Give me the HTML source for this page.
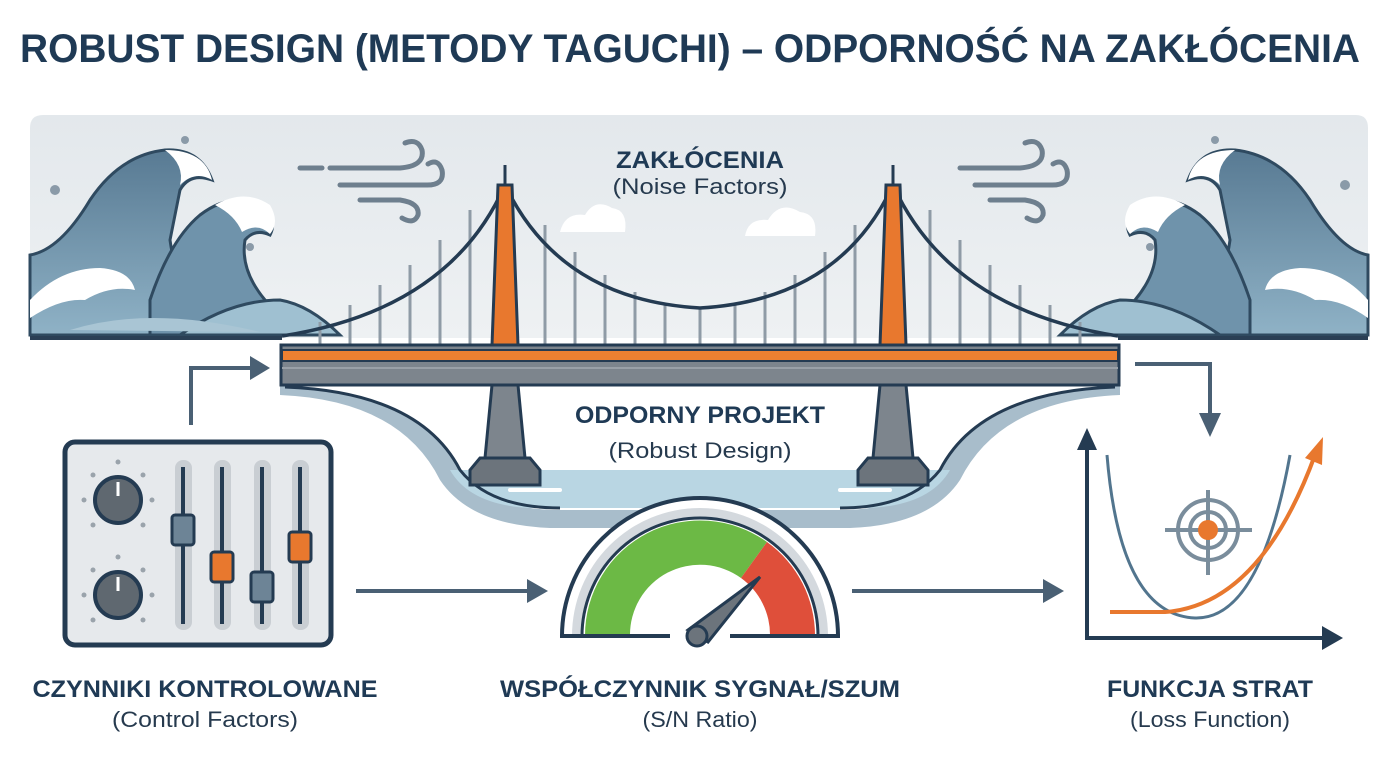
<!DOCTYPE html>
<html><head><meta charset="utf-8"><style>
html,body{margin:0;padding:0;background:#fff;}
svg{display:block;}
text{font-family:"Liberation Sans",sans-serif;}
</style></head><body>
<svg width="1400" height="764" viewBox="0 0 1400 764" xmlns="http://www.w3.org/2000/svg">
<defs>
<linearGradient id="sky" x1="0" y1="0" x2="0" y2="1"><stop offset="0" stop-color="#e3e8ec"/><stop offset="1" stop-color="#eef1f3"/></linearGradient>
<linearGradient id="wv" x1="0" y1="0" x2="0" y2="1"><stop offset="0" stop-color="#587a93"/><stop offset="1" stop-color="#8fb2c6"/></linearGradient>
</defs>
<rect width="1400" height="764" fill="#fff"/>
<text x="690" y="62" text-anchor="middle" font-size="40" font-weight="bold" fill="#1f3a55" textLength="1340" lengthAdjust="spacingAndGlyphs">ROBUST DESIGN (METODY TAGUCHI) – ODPORNOŚĆ NA ZAKŁÓCENIA</text>

<path d="M30 128 Q30 115 43 115 L1356 115 Q1368 115 1368 128 L1368 338 L30 338 Z" fill="url(#sky)"/>

<path d="M560 232 Q565 212 585 215 Q595 198 612 208 Q628 210 625 232 Z" fill="#fff"/>
<path d="M745 236 Q748 218 768 220 Q780 200 800 212 Q818 214 815 236 Z" fill="#fff"/>

<g stroke="#6e7f8e" stroke-width="5" fill="none" stroke-linecap="round">
<path d="M322 168 L300 168"/><path d="M330 168 L400 168 Q425 166 422 150 Q418 138 405 143"/>
<path d="M340 185 L425 185 Q445 186 442 170 Q438 158 428 164"/>
<path d="M360 200 L400 200 Q420 203 418 215 Q414 225 402 218"/>
<path d="M960 168 L1020 168 Q1045 166 1042 150 Q1038 138 1025 143"/>
<path d="M975 185 L1050 185 Q1070 186 1067 170 Q1063 158 1053 164"/>
<path d="M990 200 L1025 200 Q1045 203 1043 215 Q1039 225 1027 218"/>
</g>

<!-- left waves -->
<g stroke="#2f4a60" stroke-width="3">
<path d="M30 255 Q60 250 90 200 Q120 155 165 150 Q200 148 212 180 Q190 172 180 190 Q175 215 170 240 Q175 280 200 300 Q230 325 290 335 L30 335 Z" fill="url(#wv)"/>
<path d="M150 300 Q170 240 200 215 Q230 192 260 205 Q278 220 270 235 Q255 228 245 240 Q240 270 265 300 Q290 320 330 335 L150 335Z" fill="#6f93ab"/>
<path d="M180 335 Q230 300 280 300 Q310 305 340 335Z" fill="#9fc0d1"/>
</g>
<path d="M165 150 Q205 150 212 180 Q195 170 180 185 Q185 165 165 150Z" fill="#fff"/>
<path d="M215 205 Q245 188 270 205 Q280 222 270 234 Q258 222 242 232 Q235 215 215 205Z" fill="#fff"/>
<path d="M30 300 Q60 268 100 268 Q130 270 135 290 Q110 285 85 300 Q60 298 30 318Z" fill="#fff"/>
<path d="M70 330 Q150 305 260 332Z" fill="#a9c5d4"/>
<!-- right waves -->
<g stroke="#2f4a60" stroke-width="3">
<path d="M1368 255 Q1340 250 1310 200 Q1280 155 1235 150 Q1200 148 1188 180 Q1210 172 1220 190 Q1225 215 1230 240 Q1225 280 1200 300 Q1170 325 1110 335 L1368 335 Z" fill="url(#wv)"/>
<path d="M1250 300 Q1230 240 1200 215 Q1170 192 1140 205 Q1122 220 1130 235 Q1145 228 1155 240 Q1160 270 1135 300 Q1110 320 1070 335 L1250 335Z" fill="#6f93ab"/>
<path d="M1220 335 Q1170 300 1120 300 Q1090 305 1060 335Z" fill="#9fc0d1"/>
</g>
<path d="M1235 150 Q1195 150 1188 180 Q1205 170 1220 185 Q1215 165 1235 150Z" fill="#fff"/>
<path d="M1185 205 Q1155 188 1130 205 Q1120 222 1130 234 Q1142 222 1158 232 Q1165 215 1185 205Z" fill="#fff"/>
<path d="M1368 300 Q1340 268 1300 268 Q1270 270 1265 290 Q1290 285 1315 300 Q1340 298 1368 318Z" fill="#fff"/>
<g fill="#8a9aa8"><circle cx="55" cy="190" r="5"/><circle cx="185" cy="140" r="4"/><circle cx="250" cy="247" r="4"/><circle cx="1345" cy="185" r="5"/><circle cx="1215" cy="140" r="4"/><circle cx="1150" cy="247" r="4"/></g>
<line x1="30" y1="338" x2="282" y2="338" stroke="#2a3f55" stroke-width="4"/>
<line x1="1118" y1="338" x2="1368" y2="338" stroke="#2a3f55" stroke-width="4"/>

<!-- valley under bridge -->
<path d="M280 385 Q420 395 460 470 Q490 510 560 510 L840 510 Q910 510 940 470 Q980 395 1120 385 L1120 395 Q1000 400 960 480 Q930 525 850 528 L550 528 Q470 525 440 480 Q400 400 280 395Z" fill="#a8bdcb"/>
<path d="M395 390 Q440 420 460 470 Q490 510 560 510 L840 510 Q910 510 940 470 Q960 420 1005 390 Z" fill="#fff"/>
<path d="M450 470 L950 470 Q930 505 870 508 L530 508 Q470 505 450 470Z" fill="#b9d6e3"/>
<path d="M285 387 Q420 392 460 470 Q490 508 560 508" fill="none" stroke="#243b52" stroke-width="3"/>
<path d="M1115 387 Q980 392 940 470 Q910 508 840 508" fill="none" stroke="#243b52" stroke-width="3"/>
<g stroke="#fff" stroke-width="4" stroke-linecap="round"><line x1="510" y1="490" x2="560" y2="490"/><line x1="840" y1="490" x2="890" y2="490"/></g>

<g stroke="#8f9ba6" stroke-width="3">
<line x1="320" y1="322" x2="320" y2="345"/><line x1="350" y1="305" x2="350" y2="345"/><line x1="380" y1="285" x2="380" y2="345"/><line x1="410" y1="265" x2="410" y2="345"/><line x1="440" y1="240" x2="440" y2="345"/><line x1="470" y1="210" x2="470" y2="345"/>
<line x1="545" y1="225" x2="545" y2="345"/><line x1="575" y1="252" x2="575" y2="345"/><line x1="605" y1="275" x2="605" y2="345"/><line x1="635" y1="292" x2="635" y2="345"/><line x1="665" y1="303" x2="665" y2="345"/><line x1="700" y1="307" x2="700" y2="345"/><line x1="735" y1="303" x2="735" y2="345"/><line x1="765" y1="292" x2="765" y2="345"/><line x1="795" y1="275" x2="795" y2="345"/><line x1="825" y1="252" x2="825" y2="345"/><line x1="855" y1="225" x2="855" y2="345"/>
<line x1="930" y1="210" x2="930" y2="345"/><line x1="960" y1="240" x2="960" y2="345"/><line x1="990" y1="265" x2="990" y2="345"/><line x1="1020" y1="285" x2="1020" y2="345"/><line x1="1050" y1="305" x2="1050" y2="345"/><line x1="1080" y1="322" x2="1080" y2="345"/>
</g>
<path d="M282 336 Q450 310 505 185 Q560 300 700 308 Q840 300 893 185 Q950 310 1118 336" fill="none" stroke="#243b52" stroke-width="3.5"/>

<g stroke="#243b52" stroke-width="3">
<line x1="505" y1="165" x2="505" y2="185"/><line x1="893" y1="165" x2="893" y2="185"/>
<path d="M498 185 L512 185 L518 345 L492 345Z" fill="#e8782e"/>
<path d="M886 185 L900 185 L906 345 L880 345Z" fill="#e8782e"/>
<path d="M492 385 L518 385 L525 458 L485 458Z" fill="#7d858d"/>
<path d="M880 385 L906 385 L913 458 L873 458Z" fill="#7d858d"/>
<path d="M480 458 L530 458 L540 470 L540 485 L470 485 L470 470Z" fill="#6c747c"/>
<path d="M868 458 L918 458 L928 470 L928 485 L858 485 L858 470Z" fill="#6c747c"/>
</g>
<rect x="281" y="345" width="838" height="40" fill="#7d858d" stroke="#243b52" stroke-width="3"/>
<rect x="282" y="350" width="836" height="11" fill="#ec8031" stroke="#243b52" stroke-width="2"/>
<line x1="282" y1="368" x2="1118" y2="368" stroke="#9aa1a8" stroke-width="2"/>

<text x="700" y="168" text-anchor="middle" font-size="24" font-weight="bold" fill="#1f3a55" textLength="168" lengthAdjust="spacingAndGlyphs">ZAKŁÓCENIA</text>
<text x="700" y="194" text-anchor="middle" font-size="22" fill="#263a4e" textLength="175" lengthAdjust="spacingAndGlyphs">(Noise Factors)</text>
<text x="700" y="423" text-anchor="middle" font-size="24" font-weight="bold" fill="#1f3a55" textLength="250" lengthAdjust="spacingAndGlyphs">ODPORNY PROJEKT</text>
<text x="700" y="458" text-anchor="middle" font-size="22" fill="#263a4e" textLength="183" lengthAdjust="spacingAndGlyphs">(Robust Design)</text>

<g stroke="#4a6074" stroke-width="4" fill="none">
<path d="M191 425 L191 368 L252 368"/>
<line x1="356" y1="591" x2="530" y2="591"/>
<line x1="852" y1="591" x2="1045" y2="591"/>
<path d="M1135 364 L1210 364 L1210 415"/>
</g>
<g fill="#4a6074">
<path d="M250 356 L270 368 L250 380Z"/><path d="M527 579 L548 591 L527 603Z"/><path d="M1043 579 L1064 591 L1043 603Z"/><path d="M1199 413 L1221 413 L1210 437Z"/>
</g>

<rect x="65" y="442" width="266" height="203" rx="10" fill="#e6e9ec" stroke="#243b52" stroke-width="5"/>
<g fill="#9aa3ab"><circle cx="118" cy="462" r="2.5"/><circle cx="93" cy="475" r="2.5"/><circle cx="143" cy="475" r="2.5"/><circle cx="84" cy="500" r="2.5"/><circle cx="152" cy="500" r="2.5"/><circle cx="93" cy="525" r="2.5"/><circle cx="143" cy="525" r="2.5"/>
<circle cx="118" cy="557" r="2.5"/><circle cx="93" cy="570" r="2.5"/><circle cx="143" cy="570" r="2.5"/><circle cx="84" cy="595" r="2.5"/><circle cx="152" cy="595" r="2.5"/><circle cx="93" cy="620" r="2.5"/><circle cx="143" cy="620" r="2.5"/></g>
<g stroke="#243b52" stroke-width="4" fill="#5f6870">
<circle cx="118" cy="500" r="23"/><circle cx="118" cy="595" r="23"/></g>
<g stroke="#fff" stroke-width="3"><line x1="118" y1="482" x2="118" y2="496"/><line x1="118" y1="577" x2="118" y2="591"/></g>
<g fill="#c9ced3"><rect x="175" y="460" width="17" height="170" rx="8"/><rect x="214" y="460" width="17" height="170" rx="8"/><rect x="254" y="460" width="17" height="170" rx="8"/><rect x="292" y="460" width="17" height="170" rx="8"/></g>
<g stroke="#243b52" stroke-width="4"><line x1="183" y1="467" x2="183" y2="624"/><line x1="222" y1="467" x2="222" y2="624"/><line x1="262" y1="467" x2="262" y2="624"/><line x1="300" y1="467" x2="300" y2="624"/></g>
<g stroke="#243b52" stroke-width="3">
<rect x="172" y="515" width="22" height="30" rx="3" fill="#6d8496"/>
<rect x="211" y="552" width="22" height="30" rx="3" fill="#e8782e"/>
<rect x="251" y="572" width="22" height="30" rx="3" fill="#6d8496"/>
<rect x="289" y="532" width="22" height="30" rx="3" fill="#e8782e"/>
</g>

<path d="M562 636 A138 138 0 0 1 838 636" fill="#fff" stroke="#243b52" stroke-width="4"/>
<path d="M572 636 A128 128 0 0 1 828 636 L818 636 A118 118 0 0 0 582 636Z" fill="#d4d9de"/>
<path d="M582 636 A118 118 0 0 1 818 636" fill="none" stroke="#243b52" stroke-width="3"/>
<path d="M585 636 A115 115 0 0 1 767 542 L741 578 A70 70 0 0 0 630 636Z" fill="#6cb945"/>
<path d="M767 542 A115 115 0 0 1 815 636 L770 636 A70 70 0 0 0 741 578Z" fill="#df4f3a"/>
<line x1="560" y1="636" x2="670" y2="636" stroke="#243b52" stroke-width="4"/>
<line x1="730" y1="636" x2="840" y2="636" stroke="#243b52" stroke-width="4"/>
<path d="M688 630 L760 577 L708 642 Z" fill="#6c747c" stroke="#243b52" stroke-width="3"/>
<circle cx="697" cy="636" r="10" fill="#6c747c" stroke="#243b52" stroke-width="3"/>

<g stroke="#243b52" stroke-width="4" fill="none"><line x1="1087" y1="445" x2="1087" y2="640"/><line x1="1085" y1="638" x2="1325" y2="638"/></g>
<path d="M1077 450 L1087 428 L1097 450Z" fill="#243b52"/><path d="M1322 626 L1343 638 L1322 650Z" fill="#243b52"/>
<path d="M1107 455 Q1120 615 1195 618 Q1260 620 1290 455" fill="none" stroke="#52758e" stroke-width="3"/>
<path d="M1110 612 L1165 612 Q1260 605 1315 455" fill="none" stroke="#e8782e" stroke-width="4"/>
<path d="M1305 458 L1323 437 L1322 465Z" fill="#e8782e"/>
<g stroke="#7a8d9c" stroke-width="4" fill="none"><circle cx="1208" cy="530" r="30"/><circle cx="1208" cy="530" r="18"/><line x1="1208" y1="490" x2="1208" y2="575"/><line x1="1165" y1="530" x2="1252" y2="530"/></g>
<circle cx="1208" cy="530" r="10" fill="#e8782e"/>

<text x="205" y="697" text-anchor="middle" font-size="24" font-weight="bold" fill="#1f3a55" textLength="345" lengthAdjust="spacingAndGlyphs">CZYNNIKI KONTROLOWANE</text>
<text x="205" y="727" text-anchor="middle" font-size="22" fill="#263a4e" textLength="186" lengthAdjust="spacingAndGlyphs">(Control Factors)</text>
<text x="700" y="697" text-anchor="middle" font-size="24" font-weight="bold" fill="#1f3a55" textLength="400" lengthAdjust="spacingAndGlyphs">WSPÓŁCZYNNIK SYGNAŁ/SZUM</text>
<text x="700" y="727" text-anchor="middle" font-size="22" fill="#263a4e" textLength="115" lengthAdjust="spacingAndGlyphs">(S/N Ratio)</text>
<text x="1210" y="697" text-anchor="middle" font-size="24" font-weight="bold" fill="#1f3a55" textLength="206" lengthAdjust="spacingAndGlyphs">FUNKCJA STRAT</text>
<text x="1210" y="727" text-anchor="middle" font-size="22" fill="#263a4e" textLength="160" lengthAdjust="spacingAndGlyphs">(Loss Function)</text>
</svg>
</body></html>
